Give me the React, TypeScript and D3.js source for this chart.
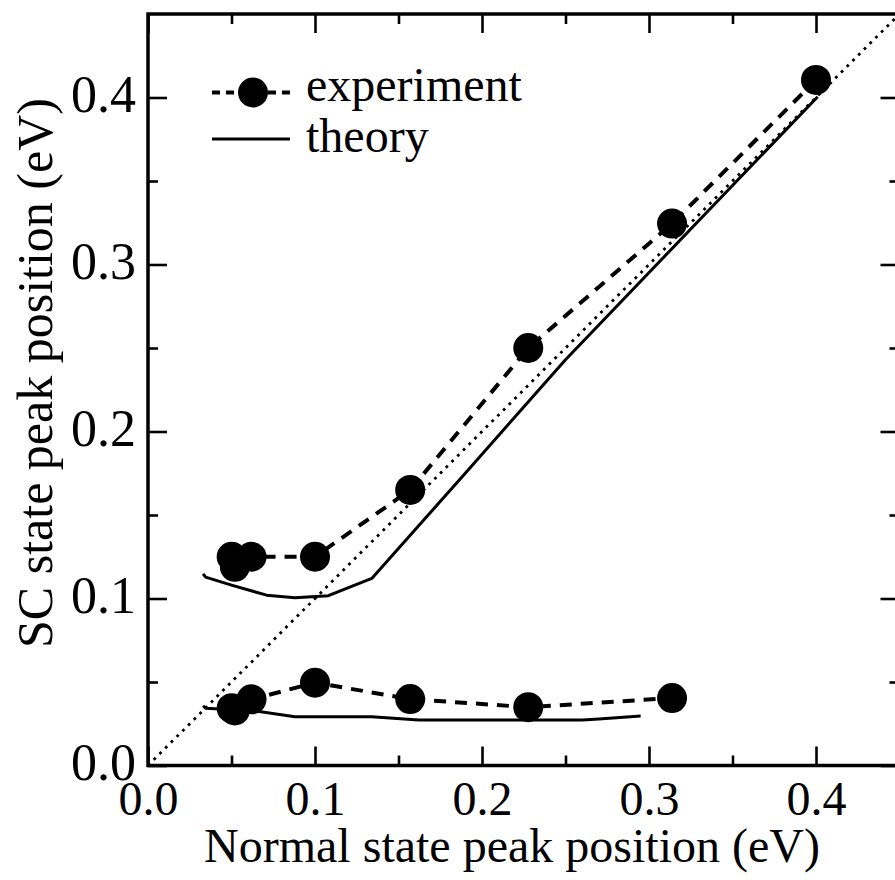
import React, { useRef, useEffect } from "react";
import * as d3 from "d3";

type Pt = [number, number];

/* experiment points (normal state peak, SC state peak) in eV */
const expUpper: Pt[] = [
  [0.0501, 0.125],
  [0.052, 0.119],
  [0.062, 0.125],
  [0.1, 0.125],
  [0.157, 0.165],
  [0.2277, 0.25],
  [0.3138, 0.3245],
  [0.4, 0.4105],
];
const expLower: Pt[] = [
  [0.0501, 0.0343],
  [0.052, 0.033],
  [0.062, 0.0396],
  [0.1, 0.0496],
  [0.157, 0.0398],
  [0.2277, 0.0349],
  [0.3138, 0.0404],
];

/* theory curves */
const theoryUpper: Pt[] = [
  [0.033, 0.1148],
  [0.0345, 0.1128],
  [0.05, 0.108],
  [0.071, 0.102],
  [0.088, 0.1005],
  [0.108, 0.1017],
  [0.134, 0.112],
  [0.19, 0.175],
  [0.25, 0.243],
  [0.401, 0.4005],
];
const theoryLower: Pt[] = [
  [0.033, 0.0358],
  [0.0345, 0.0343],
  [0.063, 0.0328],
  [0.088, 0.0292],
  [0.134, 0.0292],
  [0.162, 0.0272],
  [0.26, 0.0272],
  [0.27, 0.0278],
  [0.295, 0.0296],
];

/* y = x guide */
const diagonal: number[] = [0, 0.45];

const majorTicks: number[] = [0, 0.1, 0.2, 0.3, 0.4];
const minorTicks: number[] = [0.05, 0.15, 0.25, 0.35];

const xTitle = "Normal state peak position (eV)";
const yTitle = "SC state peak position (eV)";
const legendLabels: string[] = ["experiment", "theory"];

const FONT = "'Liberation Serif', 'Times New Roman', serif";

const App = () => {
  const svgRef = useRef<SVGSVGElement | null>(null);

  const drawChart = () => {
    const width = 895;
    const height = 880;
    const left = 148;
    const right = 899.5;
    const top = 14;
    const bottom = 765.5;

    d3.select(svgRef.current).selectAll("*").remove();
    const svg = d3
      .select(svgRef.current)
      .attr("width", width)
      .attr("height", height);

    const x = d3.scaleLinear().domain([0, 0.45]).range([left, right]);
    const y = d3.scaleLinear().domain([0, 0.45]).range([bottom, top]);

    /* ticks: inward, major and minor on all four sides */
    const addAxis = (
      axis: d3.Axis<d3.NumberValue>,
      tx: number,
      ty: number
    ) => {
      const g = svg
        .append("g")
        .attr("transform", `translate(${tx}, ${ty})`)
        .call(axis as any);
      g.select(".domain").remove();
      g.selectAll("line").attr("stroke", "#000").attr("stroke-width", 2.6);
      return g;
    };

    const fmt = d3.format(".1f");

    const xb = addAxis(
      d3.axisBottom(x).tickValues(majorTicks).tickSize(-19).tickFormat(fmt as any),
      0,
      bottom
    );
    xb.selectAll("text")
      .attr("y", 49.5)
      .attr("dy", 0)
      .style("font-family", FONT)
      .style("font-size", "48px")
      .attr("fill", "#000");
    addAxis(d3.axisBottom(x).tickValues(minorTicks).tickSize(-10).tickFormat(() => ""), 0, bottom);
    addAxis(d3.axisTop(x).tickValues(majorTicks).tickSize(-19).tickFormat(() => ""), 0, top);
    addAxis(d3.axisTop(x).tickValues(minorTicks).tickSize(-10).tickFormat(() => ""), 0, top);

    const yl = addAxis(
      d3.axisLeft(y).tickValues(majorTicks).tickSize(-19).tickFormat(fmt as any),
      left,
      0
    );
    yl.selectAll("text")
      .attr("x", -12)
      .attr("dy", 0)
      .attr("y", 13.5)
      .style("font-family", FONT)
      .style("font-size", "52px")
      .attr("fill", "#000");
    addAxis(d3.axisLeft(y).tickValues(minorTicks).tickSize(-10).tickFormat(() => ""), left, 0);
    addAxis(d3.axisRight(y).tickValues(majorTicks).tickSize(-19).tickFormat(() => ""), right, 0);
    addAxis(d3.axisRight(y).tickValues(minorTicks).tickSize(-10).tickFormat(() => ""), right, 0);

    /* frame */
    svg
      .append("rect")
      .attr("x", left)
      .attr("y", top)
      .attr("width", right - left)
      .attr("height", bottom - top)
      .attr("fill", "none")
      .attr("stroke", "#000")
      .attr("stroke-width", 3.5);

    const line = d3
      .line<Pt>()
      .x((d) => x(d[0]))
      .y((d) => y(d[1]));

    /* dotted diagonal */
    svg
      .append("path")
      .datum(diagonal.map((v) => [v, v] as Pt))
      .attr("fill", "none")
      .attr("stroke", "#000")
      .attr("stroke-width", 2.8)
      .attr("stroke-dasharray", "2.8,5.3")
      .attr("d", line);

    /* theory lines */
    [theoryUpper, theoryLower].forEach((d) => {
      svg
        .append("path")
        .datum(d)
        .attr("fill", "none")
        .attr("stroke", "#000")
        .attr("stroke-width", 3)
        .attr("stroke-linejoin", "round")
        .attr("d", line);
    });

    /* experiment lines + markers */
    [expUpper, expLower].forEach((d) => {
      svg
        .append("path")
        .datum(d)
        .attr("fill", "none")
        .attr("stroke", "#000")
        .attr("stroke-width", 4)
        .attr("stroke-dasharray", "12,9")
        .attr("d", line);
      svg
        .append("g")
        .selectAll("circle")
        .data(d)
        .enter()
        .append("circle")
        .attr("cx", (p) => x(p[0]))
        .attr("cy", (p) => y(p[1]))
        .attr("r", 15)
        .attr("fill", "#000");
    });

    /* legend */
    const lg = svg.append("g");
    lg.append("line")
      .attr("x1", 212)
      .attr("x2", 290)
      .attr("y1", 92.5)
      .attr("y2", 92.5)
      .attr("stroke", "#000")
      .attr("stroke-width", 4)
      .attr("stroke-dasharray", "8,6");
    lg.append("circle").attr("cx", 253).attr("cy", 92.5).attr("r", 15).attr("fill", "#000");
    lg.append("line")
      .attr("x1", 212)
      .attr("x2", 290)
      .attr("y1", 139)
      .attr("y2", 139)
      .attr("stroke", "#000")
      .attr("stroke-width", 3);
    lg.selectAll("text")
      .data(legendLabels)
      .enter()
      .append("text")
      .attr("x", 306)
      .attr("y", (_d, i) => 101 + i * 51)
      .style("font-family", FONT)
      .style("font-size", "48px")
      .text((d) => d);

    /* axis titles */
    svg
      .append("text")
      .attr("x", 512)
      .attr("y", 862)
      .attr("text-anchor", "middle")
      .style("font-family", FONT)
      .style("font-size", "48px")
      .text(xTitle);

    svg
      .append("text")
      .attr("transform", `translate(52, 373) rotate(-90)`)
      .attr("text-anchor", "middle")
      .style("font-family", FONT)
      .style("font-size", "50px")
      .text(yTitle);
  };

  useEffect(() => {
    drawChart();
  }, []);

  return (
    <div style={{ position: "absolute", left: 0, top: 0, width: 895, height: 880, overflow: "hidden", background: "#fff" }}>
      <svg ref={svgRef} style={{ display: "block" }} />
    </div>
  );
};

export default App;
